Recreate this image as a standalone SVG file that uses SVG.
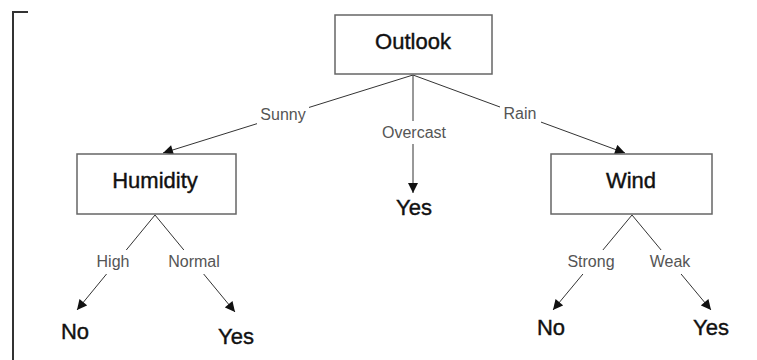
<svg xmlns="http://www.w3.org/2000/svg" width="757" height="360" viewBox="0 0 757 360">
<defs>
<style>
.box{fill:#fff;stroke:#666;stroke-width:1.5}
.nt{font-family:"Liberation Sans",Arial,sans-serif;font-size:22px;fill:#111;stroke:#111;stroke-width:0.4;text-anchor:middle}
.lt{font-family:"Liberation Sans",Arial,sans-serif;font-size:16px;fill:#555;text-anchor:middle}
.edge{stroke:#333;stroke-width:1;fill:none;marker-end:url(#ah)}
.bg{fill:#fff}
</style>
<marker id="ah" viewBox="0 0 10 10" refX="10" refY="5" markerWidth="11" markerHeight="10" markerUnits="userSpaceOnUse" orient="auto">
<path d="M0,0 L10,5 L0,10 z" fill="#111"/>
</marker>
</defs>
<rect width="757" height="360" fill="#fff"/>
<path d="M13,360 V12 H28" stroke="#333" stroke-width="2" fill="none"/>
<g id="connectors">
<line class="edge" x1="413" y1="75" x2="163" y2="153"/>
<line class="edge" x1="413" y1="75" x2="413" y2="193"/>
<line class="edge" x1="413" y1="75" x2="625" y2="153"/>
<line class="edge" x1="155" y1="215" x2="77" y2="310"/>
<line class="edge" x1="155" y1="215" x2="235" y2="312"/>
<line class="edge" x1="632" y1="215" x2="553" y2="310"/>
<line class="edge" x1="632" y1="215" x2="711" y2="310"/>
<g id="edge-labels">
<rect class="bg" x="257" y="105" width="52" height="20"/>
<text class="lt" x="283" y="120">Sunny</text>
<rect class="bg" x="377" y="121" width="73" height="23"/>
<text class="lt" x="414" y="138">Overcast</text>
<rect class="bg" x="500" y="103" width="41" height="21"/>
<text class="lt" x="520" y="119">Rain</text>
<rect class="bg" x="93" y="250" width="41" height="24"/>
<text class="lt" x="113" y="267">High</text>
<rect class="bg" x="164" y="250" width="60" height="24"/>
<text class="lt" x="194" y="267">Normal</text>
<rect class="bg" x="563" y="250" width="56" height="24"/>
<text class="lt" x="591" y="267">Strong</text>
<rect class="bg" x="644" y="250" width="52" height="24"/>
<text class="lt" x="670" y="267">Weak</text>
</g>
</g>
<g id="outlook">
<rect class="box" x="335" y="15" width="157" height="59"/>
<text class="nt" x="413" y="49">Outlook</text>
</g>
<g id="humidity">
<rect class="box" x="77" y="154" width="159" height="60"/>
<text class="nt" x="155" y="188">Humidity</text>
</g>
<g id="wind">
<rect class="box" x="551" y="154" width="161" height="60"/>
<text class="nt" x="631" y="188">Wind</text>
</g>
<g id="yes-overcast"><text class="nt" x="414" y="215">Yes</text></g>
<g id="no-high"><text class="nt" x="75" y="339">No</text></g>
<g id="yes-normal"><text class="nt" x="236" y="344">Yes</text></g>
<g id="no-strong"><text class="nt" x="551" y="335">No</text></g>
<g id="yes-weak"><text class="nt" x="711" y="335">Yes</text></g>
</svg>
